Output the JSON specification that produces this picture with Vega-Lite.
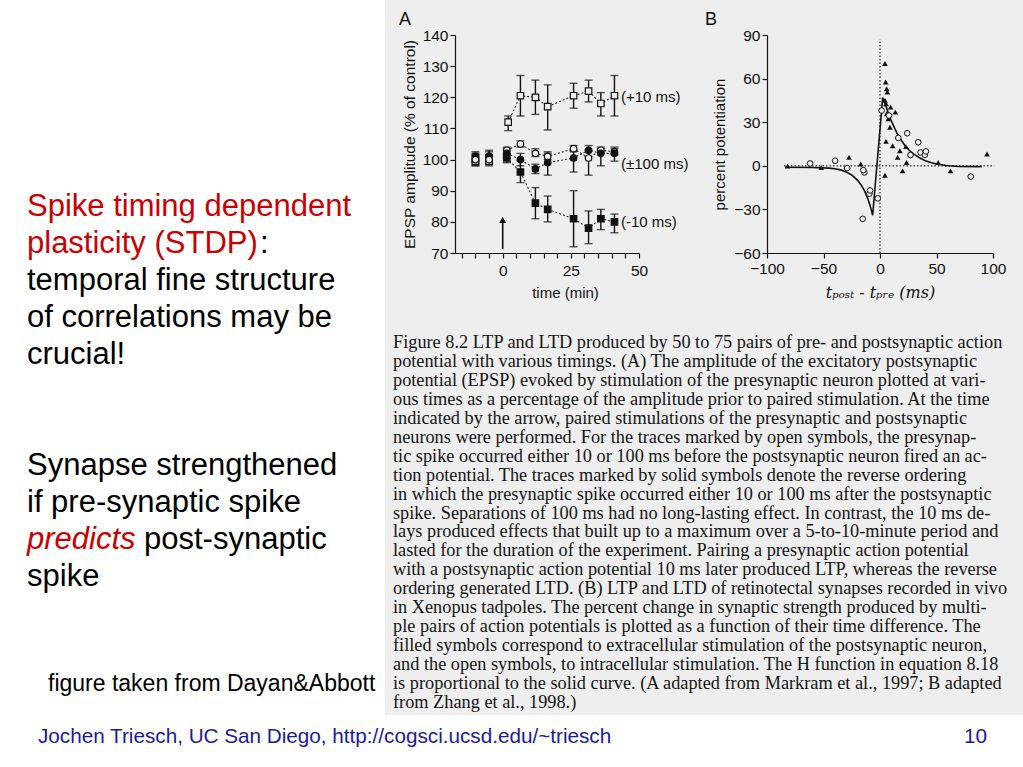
{
  "$schema": "https://vega.github.io/schema/vega-lite/v6.json",
  "background": "#eeeeee",
  "padding": 0,
  "autosize": {"type": "pad"},
  "bounds": "flush",
  "align": "each",
  "spacing": 0,
  "columns": 6,
  "resolve": {"scale": {"shape": "independent", "fill": "independent"}},
  "config": {
    "view": {"stroke": null},
    "font": "Liberation Sans",
    "concat": {"spacing": 0},
    "axis": {"domainColor": "#111111", "tickColor": "#111111", "labelColor": "#111111", "titleColor": "#111111", "grid": false, "labelFont": "Liberation Sans", "titleFont": "Liberation Sans", "titleFontWeight": "normal", "domainWidth": 1.2, "tickWidth": 1.2}
  },
  "concat": [
    {"width": 385, "height": 35, "view": {"fill": "white", "stroke": null}, "data": {"values": []}, "mark": "point"},
    {"width": 70, "height": 35, "data": {"values": []}, "mark": "point"},
    {"width": 184, "height": 35, "data": {"values": []}, "mark": "point"},
    {"width": 128, "height": 35, "data": {"values": []}, "mark": "point"},
    {"width": 226, "height": 35, "data": {"values": []}, "mark": "point"},
    {"width": 30, "height": 35, "data": {"values": []}, "mark": "point"},

    {"width": 385, "height": 218, "view": {"fill": "white", "stroke": null}, "data": {"values": []}, "mark": "point"},
    {"width": 70, "height": 218, "data": {"values": []}, "mark": "point"},
    {
      "width": 184,
      "height": 218,
      "title": {"text": "A", "anchor": "start", "frame": "group", "dx": -56, "offset": -1, "fontSize": 18, "fontWeight": "normal", "font": "Liberation Sans", "color": "#111111"},
      "data": {"values": [
        {"s": "m10", "t": -10, "v": 100, "lo": 98, "hi": 102, "ph": "pre"},
        {"s": "m10", "t": -5, "v": 100.5, "lo": 98.5, "hi": 102.5, "ph": "pre"},
        {"s": "p10", "t": -10, "v": 99.5, "lo": 98, "hi": 101.5, "ph": "pre"},
        {"s": "p10", "t": -5, "v": 99.5, "lo": 98, "hi": 101.5, "ph": "pre"},
        {"s": "m100", "t": -10, "v": 101, "lo": 99.5, "hi": 102.5, "ph": "pre"},
        {"s": "m100", "t": -5, "v": 101, "lo": 99, "hi": 103, "ph": "pre"},
        {"s": "p100", "t": -10, "v": 100, "lo": 98.5, "hi": 101.5, "ph": "pre"},
        {"s": "p100", "t": -5, "v": 100, "lo": 98.5, "hi": 101.5, "ph": "pre"},
        {"s": "p10", "t": 2, "v": 112, "lo": 109.3, "hi": 114, "ph": "post"},
        {"s": "p10", "t": 6.5, "v": 120.5, "lo": 114, "hi": 127, "ph": "post"},
        {"s": "p10", "t": 12, "v": 120, "lo": 114.5, "hi": 125.5, "ph": "post"},
        {"s": "p10", "t": 16.5, "v": 117, "lo": 109.5, "hi": 124, "ph": "post"},
        {"s": "p10", "t": 26, "v": 120.5, "lo": 116.5, "hi": 124.5, "ph": "post"},
        {"s": "p10", "t": 31.5, "v": 122, "lo": 118.5, "hi": 125.5, "ph": "post"},
        {"s": "p10", "t": 36, "v": 118, "lo": 114, "hi": 121.5, "ph": "post"},
        {"s": "p10", "t": 41, "v": 120.5, "lo": 114, "hi": 127, "ph": "post"},
        {"s": "p100", "t": 1.5, "v": 103, "lo": 101.5, "hi": 104, "ph": "post"},
        {"s": "p100", "t": 6.5, "v": 105, "lo": 104, "hi": 106, "ph": "post"},
        {"s": "p100", "t": 12, "v": 102, "lo": 101, "hi": 103.5, "ph": "post"},
        {"s": "p100", "t": 16.5, "v": 101, "lo": 100, "hi": 102.5, "ph": "post"},
        {"s": "p100", "t": 26, "v": 103.5, "lo": 102.5, "hi": 104.5, "ph": "post"},
        {"s": "p100", "t": 31.5, "v": 100.5, "lo": 95, "hi": 103, "ph": "post"},
        {"s": "p100", "t": 36, "v": 103, "lo": 102, "hi": 104, "ph": "post"},
        {"s": "p100", "t": 41, "v": 102.5, "lo": 101.5, "hi": 103.5, "ph": "post"},
        {"s": "m100", "t": 1.5, "v": 102, "lo": 100.5, "hi": 103.5, "ph": "post"},
        {"s": "m100", "t": 6.5, "v": 100, "lo": 98, "hi": 102, "ph": "post"},
        {"s": "m100", "t": 12, "v": 97, "lo": 95.5, "hi": 98.5, "ph": "post"},
        {"s": "m100", "t": 16.5, "v": 99, "lo": 95, "hi": 102, "ph": "post"},
        {"s": "m100", "t": 26, "v": 100.5, "lo": 96, "hi": 103, "ph": "post"},
        {"s": "m100", "t": 31.5, "v": 103, "lo": 101, "hi": 104.5, "ph": "post"},
        {"s": "m100", "t": 36, "v": 102, "lo": 98, "hi": 103.5, "ph": "post"},
        {"s": "m100", "t": 41, "v": 102, "lo": 99.5, "hi": 104, "ph": "post"},
        {"s": "m10", "t": 1.5, "v": 100.5, "lo": 99, "hi": 102, "ph": "post"},
        {"s": "m10", "t": 6.5, "v": 96, "lo": 92.6, "hi": 99.7, "ph": "post"},
        {"s": "m10", "t": 12, "v": 86, "lo": 81, "hi": 91, "ph": "post"},
        {"s": "m10", "t": 16.5, "v": 84, "lo": 80, "hi": 88.3, "ph": "post"},
        {"s": "m10", "t": 26, "v": 81, "lo": 72, "hi": 90, "ph": "post"},
        {"s": "m10", "t": 31.5, "v": 78, "lo": 73, "hi": 83.5, "ph": "post"},
        {"s": "m10", "t": 36, "v": 81, "lo": 77.5, "hi": 84, "ph": "post"},
        {"s": "m10", "t": 41, "v": 80, "lo": 76.5, "hi": 82.5, "ph": "post"}
      ]},
      "encoding": {
        "x": {"field": "t", "type": "quantitative", "scale": {"domain": [-17.5, 50], "nice": false, "zero": false},
          "axis": {"values": [-15, -10, -5, 0, 5, 10, 15, 20, 25, 30, 35, 40, 45, 50], "labelExpr": "datum.value % 25 === 0 ? datum.label : ''", "title": "time  (min)", "titleX": 110, "titleFontSize": 15, "labelFontSize": 15.5, "tickSize": 5, "labelPadding": 5, "titlePadding": 7, "labelFlush": false}},
        "y": {"field": "v", "type": "quantitative", "scale": {"domain": [70, 140], "nice": false, "zero": false},
          "axis": {"values": [70, 80, 90, 100, 110, 120, 130, 140], "title": "EPSP amplitude (% of control)", "titleFontSize": 15.5, "labelFontSize": 15.5, "tickSize": 5, "labelPadding": 2, "titlePadding": 5}}
      },
      "layer": [
        {"transform": [{"filter": "datum.ph === 'post'"}], "mark": {"type": "line", "color": "#222222", "strokeWidth": 1.1, "strokeDash": [2, 2]}, "encoding": {"detail": {"field": "s"}, "order": {"field": "t"}}},
        {"mark": {"type": "errorbar", "color": "#111111", "thickness": 1.4, "ticks": {"size": 8, "thickness": 1.4}}, "encoding": {"y": {"field": "lo", "type": "quantitative"}, "y2": {"field": "hi"}}},
        {"mark": {"type": "point", "filled": true, "stroke": "#111111", "strokeWidth": 1.2, "size": 42, "opacity": 1},
          "encoding": {
            "shape": {"field": "s", "type": "nominal", "scale": {"domain": ["p10", "m10", "p100", "m100"], "range": ["square", "square", "circle", "circle"]}, "legend": null},
            "fill": {"field": "s", "type": "nominal", "scale": {"domain": ["p10", "m10", "p100", "m100"], "range": ["#eeeeee", "#111111", "#eeeeee", "#111111"]}, "legend": null}
          }},
        {"data": {"values": [{"t": 0, "v": 71.3, "top": 80}]}, "mark": {"type": "rule", "color": "#111111", "strokeWidth": 1.6}, "encoding": {"x": {"field": "t", "type": "quantitative"}, "y": {"field": "v", "type": "quantitative"}, "y2": {"field": "top"}}},
        {"data": {"values": [{"t": 0, "v": 80.6}]}, "mark": {"type": "point", "shape": "triangle-up", "filled": true, "color": "#111111", "size": 50, "opacity": 1}, "encoding": {"x": {"field": "t", "type": "quantitative"}, "y": {"field": "v", "type": "quantitative"}}},
        {"data": {"values": [
            {"lab": "(+10 ms)", "t": 43.4, "v": 120},
            {"lab": "(\u00b1100 ms)", "t": 43.4, "v": 98.7},
            {"lab": "(-10 ms)", "t": 43.4, "v": 79.8}
          ]},
          "mark": {"type": "text", "align": "left", "baseline": "middle", "fontSize": 15, "color": "#111111"},
          "encoding": {"x": {"field": "t", "type": "quantitative"}, "y": {"field": "v", "type": "quantitative"}, "text": {"field": "lab"}}}
      ]
    },
    {"width": 128, "height": 218, "data": {"values": []}, "mark": "point"},
    {
      "width": 226,
      "height": 218,
      "title": {"text": "B", "anchor": "start", "frame": "group", "dx": -62, "offset": -1, "fontSize": 18, "fontWeight": "normal", "font": "Liberation Sans", "color": "#111111"},
      "encoding": {
        "x": {"field": "dt", "type": "quantitative", "scale": {"domain": [-100, 100], "nice": false, "zero": false},
          "axis": {"values": [-100, -50, 0, 50, 100], "title": "t\u209a\u2092\u209b\u209c - t\u209a\u1d63\u2091  (ms)", "titleFont": "DejaVu Serif", "titleFontStyle": "italic", "titleFontSize": 16, "labelFontSize": 15.5, "tickSize": 5, "labelPadding": 3, "titlePadding": 8, "labelFlush": false}},
        "y": {"field": "pct", "type": "quantitative", "scale": {"domain": [-60, 90], "nice": false, "zero": false},
          "axis": {"values": [-60, -30, 0, 30, 60, 90], "title": "percent potentiation", "titleFontSize": 15, "labelFontSize": 15.5, "tickSize": 5, "labelPadding": 2, "titlePadding": 6}}
      },
      "layer": [
        {"data": {"values": [{"dt": 0, "pct": -60, "pct2": 87}]}, "mark": {"type": "rule", "color": "#222222", "strokeWidth": 1.2, "strokeDash": [1.5, 2]}, "encoding": {"y2": {"field": "pct2"}}},
        {"data": {"values": [{"dt": -85, "dt2": 101, "pct": 0}]}, "mark": {"type": "rule", "color": "#222222", "strokeWidth": 1.2, "strokeDash": [1.5, 2]}, "encoding": {"x2": {"field": "dt2"}}},
        {"data": {"values": [
            {"dt": -84, "pct": -1}, {"dt": -60, "pct": -1.2}, {"dt": -45, "pct": -1.6}, {"dt": -40, "pct": -2},
            {"dt": -35, "pct": -2.8}, {"dt": -30, "pct": -4.2}, {"dt": -25, "pct": -6.3}, {"dt": -20, "pct": -9.8},
            {"dt": -17, "pct": -12.8}, {"dt": -14, "pct": -16.8}, {"dt": -11, "pct": -22.2}, {"dt": -9, "pct": -26.8},
            {"dt": -7.5, "pct": -31}, {"dt": -6.5, "pct": -34}, {"dt": 2.4, "pct": 47}, {"dt": 4, "pct": 44},
            {"dt": 6, "pct": 39.5}, {"dt": 8, "pct": 35}, {"dt": 10, "pct": 31}, {"dt": 12, "pct": 27.5},
            {"dt": 15, "pct": 22.5}, {"dt": 18, "pct": 18.5}, {"dt": 22, "pct": 14}, {"dt": 26, "pct": 10.5},
            {"dt": 30, "pct": 8}, {"dt": 35, "pct": 5.5}, {"dt": 40, "pct": 3.5}, {"dt": 45, "pct": 2.2},
            {"dt": 50, "pct": 1.2}, {"dt": 60, "pct": 0}, {"dt": 70, "pct": -0.5}, {"dt": 90, "pct": -0.6}
          ]},
          "mark": {"type": "line", "color": "#111111", "strokeWidth": 1.6}, "encoding": {"order": {"field": "dt"}}},
        {"data": {"values": [
            {"dt": -81.8, "pct": -0.2}, {"dt": -52, "pct": -1.2}, {"dt": -27.4, "pct": 5.8},
            {"dt": -17, "pct": 1.2}, {"dt": 4.4, "pct": 70.4}, {"dt": 5.9, "pct": 53},
            {"dt": 6.5, "pct": 50.8}, {"dt": 5, "pct": 57.7}, {"dt": 4.4, "pct": 45},
            {"dt": 5.3, "pct": 42.7}, {"dt": 5.9, "pct": 35.8}, {"dt": 7.4, "pct": 32.3},
            {"dt": 8.8, "pct": 26.5}, {"dt": 9.4, "pct": 40.4}, {"dt": 13.5, "pct": 36.9},
            {"dt": 5.3, "pct": 16.8}, {"dt": 11.2, "pct": 13.8}, {"dt": 17.6, "pct": 10.4},
            {"dt": 15.6, "pct": 5.8}, {"dt": 22.9, "pct": 13.2}, {"dt": 23.5, "pct": 2.3},
            {"dt": 20, "pct": -3.5}, {"dt": 4.4, "pct": -6.5}, {"dt": 51.5, "pct": 2.3},
            {"dt": 62.4, "pct": -3.5}, {"dt": 94.7, "pct": 8.1}
          ]},
          "mark": {"type": "point", "shape": "triangle-up", "filled": true, "color": "#111111", "size": 32, "opacity": 1}},
        {"data": {"values": [
            {"dt": -61.8, "pct": 1.6}, {"dt": -39.7, "pct": 3.5}, {"dt": -29.1, "pct": -1.6},
            {"dt": -13.8, "pct": -4.6}, {"dt": -14.7, "pct": -3}, {"dt": -9.4, "pct": -19.2},
            {"dt": -8.8, "pct": -17}, {"dt": -15.3, "pct": -36.5}, {"dt": -2, "pct": -22.4},
            {"dt": 7.9, "pct": 34.6}, {"dt": 16.2, "pct": 19.2}, {"dt": 24.1, "pct": 22.4},
            {"dt": 27, "pct": 7.4}, {"dt": 33.8, "pct": 16.2}, {"dt": 35.9, "pct": 9.2},
            {"dt": 39.7, "pct": 7.6}, {"dt": 40.6, "pct": 9.9}, {"dt": 80.3, "pct": -7.4},
            {"dt": 1.5, "pct": 38}
          ]},
          "mark": {"type": "point", "shape": "circle", "filled": true, "fill": "#eeeeee", "stroke": "#111111", "strokeWidth": 1, "size": 32, "opacity": 1}}
      ]
    },
    {"width": 30, "height": 218, "data": {"values": []}, "mark": "point"},

    {
      "width": 385,
      "height": 462,
      "view": {"fill": "white", "stroke": null},
      "data": {"values": [
        {"line": 0, "txt": "Spike timing dependent", "kind": "red"},
        {"line": 1, "txt": "plasticity (STDP)", "kind": "red"},
        {"line": 1, "txt": ":", "kind": "colon"},
        {"line": 2, "txt": "temporal fine structure", "kind": "black"},
        {"line": 3, "txt": "of correlations may be", "kind": "black"},
        {"line": 4, "txt": "crucial!", "kind": "black"},
        {"line": 7, "txt": "Synapse strengthened", "kind": "black"},
        {"line": 8, "txt": "if pre-synaptic spike", "kind": "black"},
        {"line": 9, "txt": "predicts", "kind": "redItalic"},
        {"line": 9, "txt": "post-synaptic", "kind": "after"},
        {"line": 10, "txt": "spike", "kind": "black"},
        {"line": 12.84, "txt": "figure taken from Dayan&Abbott", "kind": "note"}
      ]},
      "encoding": {
        "y": {"field": "line", "type": "quantitative", "scale": {"domain": [1.0, 13.486], "reverse": true, "nice": false, "zero": false}, "axis": null},
        "text": {"field": "txt"}
      },
      "layer": [
        {"transform": [{"filter": "datum.kind === 'black'"}], "mark": {"type": "text", "align": "left", "baseline": "alphabetic", "fontSize": 31, "color": "black"}, "encoding": {"x": {"value": 27}}},
        {"transform": [{"filter": "datum.kind === 'red'"}], "mark": {"type": "text", "align": "left", "baseline": "alphabetic", "fontSize": 31, "color": "#cc0000"}, "encoding": {"x": {"value": 27}}},
        {"transform": [{"filter": "datum.kind === 'colon'"}], "mark": {"type": "text", "align": "left", "baseline": "alphabetic", "fontSize": 31, "color": "black"}, "encoding": {"x": {"value": 260}}},
        {"transform": [{"filter": "datum.kind === 'redItalic'"}], "mark": {"type": "text", "align": "left", "baseline": "alphabetic", "fontSize": 31, "fontStyle": "italic", "color": "#cc0000"}, "encoding": {"x": {"value": 27}}},
        {"transform": [{"filter": "datum.kind === 'after'"}], "mark": {"type": "text", "align": "left", "baseline": "alphabetic", "fontSize": 31, "color": "black"}, "encoding": {"x": {"value": 144}}},
        {"transform": [{"filter": "datum.kind === 'note'"}], "mark": {"type": "text", "align": "left", "baseline": "alphabetic", "fontSize": 23, "color": "black"}, "encoding": {"x": {"value": 48}}}
      ]
    },
    {
      "width": 70,
      "height": 462,
      "data": {"values": [
        {"i": 0, "txt": "Figure 8.2 LTP and LTD produced by 50 to 75 pairs of pre- and postsynaptic action"},
        {"i": 1, "txt": "potential with various timings.  (A) The amplitude of the excitatory postsynaptic"},
        {"i": 2, "txt": "potential (EPSP) evoked by stimulation of the presynaptic neuron plotted at vari-"},
        {"i": 3, "txt": "ous times as a percentage of the amplitude prior to paired stimulation. At the time"},
        {"i": 4, "txt": "indicated by the arrow, paired stimulations of the presynaptic and postsynaptic"},
        {"i": 5, "txt": "neurons were performed.  For the traces marked by open symbols, the presynap-"},
        {"i": 6, "txt": "tic spike occurred either 10 or 100 ms before the postsynaptic neuron fired an ac-"},
        {"i": 7, "txt": "tion potential.  The traces marked by solid symbols denote the reverse ordering"},
        {"i": 8, "txt": "in which the presynaptic spike occurred either 10 or 100 ms after the postsynaptic"},
        {"i": 9, "txt": "spike.  Separations of 100 ms had no long-lasting effect.  In contrast, the 10 ms de-"},
        {"i": 10, "txt": "lays produced effects that built up to a maximum over a 5-to-10-minute period and"},
        {"i": 11, "txt": "lasted for the duration of the experiment.  Pairing a presynaptic action potential"},
        {"i": 12, "txt": "with a postsynaptic action potential 10 ms later produced LTP, whereas the reverse"},
        {"i": 13, "txt": "ordering generated LTD. (B) LTP and LTD of retinotectal synapses recorded in vivo"},
        {"i": 14, "txt": "in Xenopus tadpoles.  The percent change in synaptic strength produced by multi-"},
        {"i": 15, "txt": "ple pairs of action potentials is plotted as a function of their time difference.  The"},
        {"i": 16, "txt": "filled symbols correspond to extracellular stimulation of the postsynaptic neuron,"},
        {"i": 17, "txt": "and the open symbols, to intracellular stimulation. The H function in equation 8.18"},
        {"i": 18, "txt": "is proportional to the solid curve. (A adapted from Markram et al., 1997; B adapted"},
        {"i": 19, "txt": "from Zhang et al., 1998.)"}
      ]},
      "mark": {"type": "text", "align": "left", "baseline": "alphabetic", "font": "Liberation Serif", "fontSize": 18.3, "color": "#151515"},
      "encoding": {
        "x": {"value": 8},
        "y": {"field": "i", "type": "quantitative", "scale": {"domain": [-5.013, 19.367], "reverse": true, "nice": false, "zero": false}, "axis": null},
        "text": {"field": "txt"}
      }
    },
    {"width": 184, "height": 462, "data": {"values": []}, "mark": "point"},
    {"width": 128, "height": 462, "data": {"values": []}, "mark": "point"},
    {"width": 226, "height": 462, "data": {"values": []}, "mark": "point"},
    {"width": 30, "height": 462, "data": {"values": []}, "mark": "point"},

    {"width": 385, "height": 52, "view": {"fill": "white", "stroke": null}, "data": {"values": []}, "mark": "point"},
    {"width": 70, "height": 52, "view": {"fill": "white", "stroke": null}, "data": {"values": []}, "mark": "point"},
    {"width": 184, "height": 52, "view": {"fill": "white", "stroke": null}, "data": {"values": []}, "mark": "point"},
    {"width": 128, "height": 52, "view": {"fill": "white", "stroke": null}, "data": {"values": []}, "mark": "point"},
    {"width": 226, "height": 52, "view": {"fill": "white", "stroke": null}, "data": {"values": []}, "mark": "point"},
    {
      "width": 30,
      "height": 52,
      "view": {"fill": "white", "stroke": null},
      "layer": [
        {"data": {"values": [{"txt": "Jochen Triesch, UC San Diego, http://cogsci.ucsd.edu/~triesch"}]},
          "mark": {"type": "text", "align": "left", "baseline": "alphabetic", "fontSize": 20.7, "color": "#1a1a9e"},
          "encoding": {"x": {"value": -955}, "y": {"value": 28}, "text": {"field": "txt"}}},
        {"data": {"values": [{"txt": "10"}]},
          "mark": {"type": "text", "align": "right", "baseline": "alphabetic", "fontSize": 20.7, "color": "#1a1a9e"},
          "encoding": {"x": {"value": -6}, "y": {"value": 28}, "text": {"field": "txt"}}}
      ]
    }
  ]
}
